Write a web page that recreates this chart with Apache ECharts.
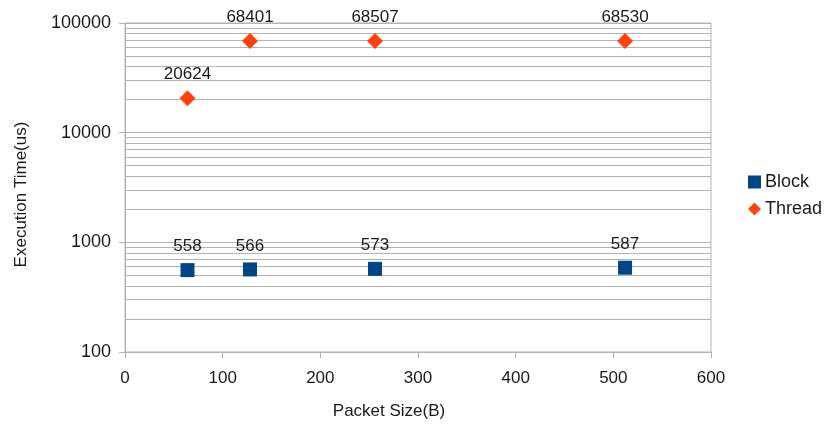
<!DOCTYPE html>
<html><head><meta charset="utf-8">
<script src="https://cdn.jsdelivr.net/npm/echarts@6/dist/echarts.min.js"></script>
<style>html,body{margin:0;padding:0;background:#fff}#c{width:825px;height:427px}</style>
</head><body><div id="c"></div>
<script>
var packetSizes = [64, 128, 256, 512];
var blockTimes = [558, 566, 573, 587];
var threadTimes = [20624, 68401, 68507, 68530];
var minorGridValues = [200,300,400,500,600,700,800,900,2000,3000,4000,5000,6000,7000,8000,9000,20000,30000,40000,50000,60000,70000,80000,90000];

var font = 'Liberation Sans';
var txt = '#1a1a1a';
var chart = echarts.init(document.getElementById('c'));
chart.setOption({
  animation: false,
  backgroundColor: '#fff',
  grid: {left: 125, right: 114, top: 23, bottom: 75, show: true, borderColor: '#b3b3b3', borderWidth: 1},
  legend: {
    orient: 'vertical', left: 748, top: 173, padding: 0, itemGap: 9, itemWidth: 13, itemHeight: 13,
    textStyle: {fontFamily: font, fontSize: 18, color: txt, padding: [0, 0, 0, -1]},
    data: [{name: 'Block', icon: 'rect'}, {name: 'Thread', icon: 'diamond'}]
  },
  xAxis: {
    type: 'value', min: 0, max: 600, interval: 100,
    name: 'Packet Size(B)', nameLocation: 'middle', nameGap: 51,
    nameTextStyle: {fontFamily: font, fontSize: 17, color: txt, padding: [0, 58, 0, 0]},
    axisLine: {show: true, lineStyle: {color: '#b3b3b3'}},
    axisTick: {show: true, length: 6, lineStyle: {color: '#b3b3b3'}},
    axisLabel: {fontFamily: font, fontSize: 17, color: txt, margin: 18},
    splitLine: {show: false}
  },
  yAxis: {
    type: 'log', logBase: 10, min: 100, max: 100000,
    name: 'Execution Time(us)', nameLocation: 'middle', nameGap: 95,
    nameTextStyle: {fontFamily: font, fontSize: 17, color: txt, padding: [0, 14, 0, 0]},
    axisLine: {show: true, lineStyle: {color: '#b3b3b3'}},
    axisTick: {show: true, length: 6, lineStyle: {color: '#b3b3b3'}},
    axisLabel: {fontFamily: font, fontSize: 18, color: txt, margin: 14,
      formatter: function(v){ return String(Math.round(v)); }},
    splitLine: {show: true, lineStyle: {color: '#b3b3b3', width: 1}}
  },
  series: [
    {
      name: 'Block', type: 'scatter', symbol: 'rect', symbolSize: 14,
      itemStyle: {color: '#004586', opacity: 1},
      data: packetSizes.map(function(x, i){ return [x, blockTimes[i]]; }),
      label: {show: true, position: 'top', distance: 8, fontFamily: font, fontSize: 17, color: txt,
        formatter: function(p){ return p.value[1]; }},
      markLine: {
        silent: true, symbol: 'none', animation: false,
        label: {show: false},
        lineStyle: {color: '#b3b3b3', type: 'solid', width: 1},
        data: minorGridValues.map(function(v){ return {yAxis: v}; })
      },
      z: 5
    },
    {
      name: 'Thread', type: 'scatter', symbol: 'diamond', symbolSize: 16,
      itemStyle: {color: '#ff420e', opacity: 1},
      data: packetSizes.map(function(x, i){ return [x, threadTimes[i]]; }),
      label: {show: true, position: 'top', distance: 7, fontFamily: font, fontSize: 17, color: txt,
        formatter: function(p){ return p.value[1]; }},
      z: 5
    }
  ]
});
</script></body></html>
